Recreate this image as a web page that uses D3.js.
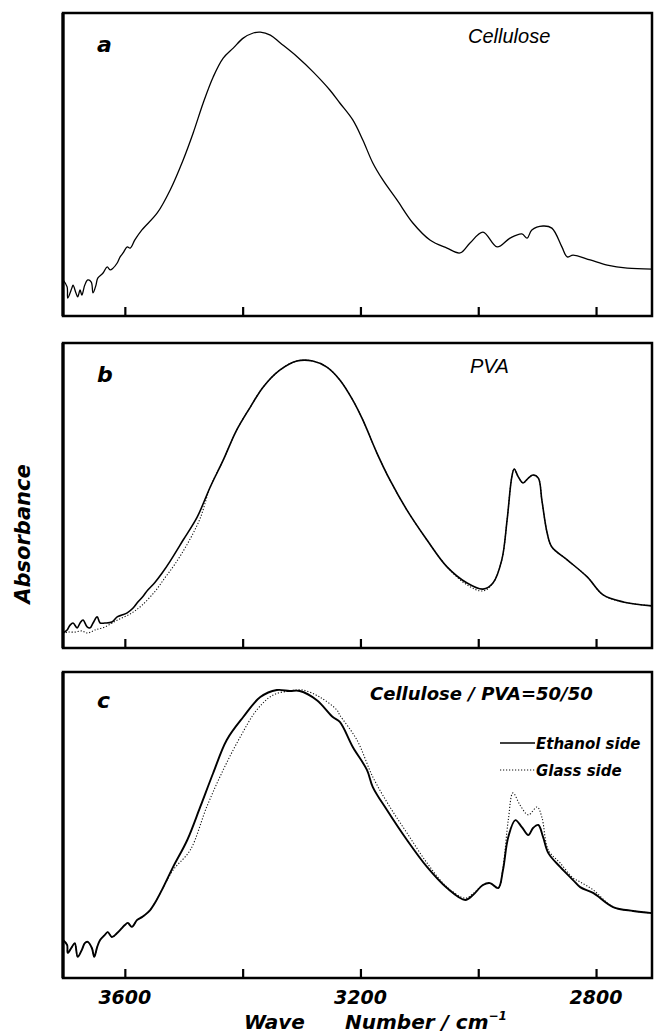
<!DOCTYPE html>
<html>
<head>
<meta charset="utf-8">
<script src="https://cdn.jsdelivr.net/npm/d3@7"></script>
<style>
  body { margin: 0; background: #fff; }
  svg { display: block; }
  .bold { font-family: "DejaVu Sans", sans-serif; font-weight: bold; font-style: oblique; }
</style>
</head>
<body>
<svg id="ir_chart"></svg>
<script>
// wave numbers (cm-1) and relative absorbance
var celluloseWn = [3705,3698,3697,3690,3688,3683,3680,3676,3673,3668,3663,3657,3654,3649,3646,3637,3630,3625,3620,3613,3608,3603,3596,3591,3583,3571,3545,3523,3501,3484,3467,3450,3433,3416,3399,3382,3370,3353,3336,3307,3280,3252,3235,3213,3196,3179,3162,3138,3111,3082,3053,3031,3014,2992,2968,2946,2926,2917,2909,2890,2875,2858,2849,2839,2810,2781,2747,2705];
var celluloseAbs = [0.119,0.096,0.059,0.092,0.102,0.076,0.063,0.086,0.069,0.102,0.119,0.112,0.076,0.102,0.125,0.142,0.162,0.152,0.158,0.175,0.195,0.208,0.228,0.224,0.251,0.284,0.340,0.416,0.515,0.604,0.703,0.789,0.851,0.884,0.917,0.934,0.937,0.927,0.901,0.855,0.805,0.746,0.703,0.647,0.581,0.505,0.449,0.383,0.307,0.251,0.224,0.208,0.241,0.277,0.228,0.257,0.271,0.257,0.284,0.297,0.290,0.228,0.195,0.201,0.185,0.168,0.158,0.155];

var pvaEthWn = [3705,3698,3693,3688,3681,3676,3671,3664,3659,3654,3647,3642,3634,3622,3613,3605,3596,3586,3579,3569,3561,3549,3537,3523,3501,3477,3455,3433,3410,3387,3365,3337,3308,3281,3257,3235,3213,3196,3172,3150,3121,3087,3053,3019,2992,2975,2960,2951,2943,2939,2932,2924,2915,2907,2898,2892,2883,2875,2849,2815,2788,2754,2705];
var pvaEthAbs = [0.049,0.059,0.075,0.082,0.066,0.082,0.092,0.069,0.066,0.082,0.102,0.082,0.082,0.085,0.102,0.108,0.115,0.131,0.148,0.170,0.190,0.215,0.245,0.285,0.354,0.430,0.528,0.616,0.715,0.790,0.856,0.911,0.941,0.941,0.921,0.879,0.813,0.748,0.639,0.551,0.452,0.354,0.266,0.213,0.193,0.213,0.289,0.420,0.561,0.587,0.561,0.541,0.557,0.567,0.557,0.485,0.377,0.331,0.289,0.233,0.174,0.151,0.138];
var pvaGlassWn = [3705,3697,3685,3673,3663,3651,3634,3612,3588,3571,3549,3532,3515,3493,3472,3455,3433,3410,3387,3365,3337,3308,3281,3257,3235,3213,3196,3172,3150,3121,3087,3053,3019,2992,2975,2960,2951,2943,2939,2932,2924,2915,2907,2898,2892,2883,2875,2849,2815,2788,2754,2705];
var pvaGlassAbs = [0.046,0.052,0.052,0.056,0.049,0.059,0.069,0.092,0.115,0.140,0.185,0.230,0.275,0.344,0.426,0.528,0.616,0.715,0.790,0.856,0.911,0.941,0.941,0.921,0.879,0.813,0.748,0.639,0.551,0.452,0.354,0.266,0.207,0.187,0.213,0.289,0.420,0.561,0.587,0.561,0.541,0.557,0.567,0.557,0.485,0.377,0.331,0.289,0.233,0.174,0.151,0.138];

var blendEthWn = [3705,3698,3697,3690,3685,3680,3673,3668,3663,3656,3652,3647,3642,3634,3629,3622,3613,3605,3600,3595,3588,3579,3571,3566,3557,3549,3537,3518,3494,3472,3450,3427,3399,3370,3342,3320,3303,3274,3247,3235,3213,3189,3179,3155,3121,3087,3053,3022,3009,2992,2980,2966,2958,2949,2937,2926,2915,2907,2898,2890,2881,2861,2839,2827,2805,2771,2737,2705];
var blendEthAbs = [0.124,0.108,0.082,0.101,0.114,0.069,0.092,0.114,0.118,0.098,0.069,0.101,0.124,0.141,0.150,0.134,0.147,0.163,0.173,0.180,0.167,0.190,0.199,0.206,0.222,0.245,0.288,0.363,0.451,0.559,0.670,0.778,0.853,0.918,0.941,0.938,0.938,0.908,0.853,0.837,0.755,0.680,0.624,0.549,0.451,0.363,0.294,0.255,0.271,0.304,0.310,0.294,0.353,0.461,0.516,0.493,0.467,0.490,0.500,0.461,0.408,0.363,0.320,0.297,0.278,0.232,0.219,0.212];
var blendGlassWn = [3705,3698,3697,3690,3685,3680,3673,3668,3663,3656,3652,3647,3642,3634,3629,3622,3613,3605,3600,3595,3588,3579,3571,3566,3557,3549,3537,3518,3489,3461,3433,3404,3376,3348,3320,3298,3269,3240,3235,3206,3179,3150,3121,3087,3053,3022,3009,2992,2980,2966,2958,2949,2941,2929,2915,2900,2892,2881,2861,2839,2827,2805,2771,2737,2705];
var blendGlassAbs = [0.124,0.108,0.082,0.101,0.114,0.069,0.092,0.114,0.118,0.098,0.069,0.101,0.124,0.141,0.150,0.134,0.147,0.163,0.173,0.180,0.167,0.190,0.199,0.206,0.222,0.245,0.288,0.353,0.418,0.559,0.680,0.788,0.876,0.925,0.938,0.941,0.918,0.876,0.859,0.778,0.657,0.559,0.474,0.376,0.297,0.261,0.275,0.304,0.310,0.294,0.363,0.516,0.605,0.565,0.533,0.559,0.526,0.418,0.376,0.327,0.314,0.288,0.232,0.219,0.212];

var majorTicks = [3600, 3400, 3200, 3000, 2800];
var tickLabels = [3600, 3200, 2800];

var W = 654, H = 1035;
var left = 63, right = 652;

var svg = d3.select("#ir_chart").attr("width", W).attr("height", H);

var x = d3.scaleLinear().domain([3705, 2705]).range([left, right]);

function zip(wn, ab) { return wn.map(function(w, i) { return {wn: w, ab: ab[i]}; }); }

var panels = [
  {top: 13, bottom: 316, letter: "a", solid: zip(celluloseWn, celluloseAbs), solidW: 1.3},
  {top: 343, bottom: 648, letter: "b", solid: zip(pvaEthWn, pvaEthAbs), dotted: zip(pvaGlassWn, pvaGlassAbs), solidW: 1.6},
  {top: 672, bottom: 978, letter: "c", solid: zip(blendEthWn, blendEthAbs), dotted: zip(blendGlassWn, blendGlassAbs), solidW: 1.9}
];

panels.forEach(function(p, i) {
  var y = d3.scaleLinear().domain([0, 1]).range([p.bottom, p.top]);
  var line = d3.line().x(d => x(d.wn)).y(d => y(d.ab)).curve(d3.curveCatmullRom.alpha(0.5));
  var g = svg.append("g");

  if (p.dotted) {
    g.append("path").datum(p.dotted)
      .attr("d", line).attr("fill", "none")
      .attr("stroke", "#111").attr("stroke-width", 1.1)
      .attr("stroke-dasharray", "1.2,1.8");
  }
  g.append("path").datum(p.solid)
    .attr("d", line).attr("fill", "none")
    .attr("stroke", "#000").attr("stroke-width", p.solidW)
    .attr("stroke-linejoin", "round");

  // ticks point up into the frame
  var ax = g.append("g")
    .attr("transform", `translate(0, ${p.bottom})`)
    .call(d3.axisBottom(x).tickValues(majorTicks).tickSize(-9).tickFormat(""));
  ax.select(".domain").remove();
  ax.selectAll(".tick line").attr("stroke", "#000").attr("stroke-width", 2.2);

  g.append("rect")
    .attr("x", left).attr("y", p.top)
    .attr("width", right - left).attr("height", p.bottom - p.top)
    .attr("fill", "none").attr("stroke", "#000").attr("stroke-width", 2.5);
  g.append("line")
    .attr("x1", left).attr("x2", left).attr("y1", p.top).attr("y2", p.bottom)
    .attr("stroke", "#000").attr("stroke-width", 3.2);

  g.append("text").attr("class", "bold")
    .attr("x", 97).attr("y", p.top + (i == 2 ? 36 : 39))
    .attr("font-size", 22).text(p.letter);
});

// panel titles
svg.append("text").attr("x", 468).attr("y", 43)
  .attr("font-family", "Liberation Sans, Arial, sans-serif").attr("font-style", "italic")
  .attr("font-size", 20).text("Cellulose");
svg.append("text").attr("x", 470).attr("y", 373)
  .attr("font-family", "Liberation Sans, Arial, sans-serif").attr("font-style", "italic")
  .attr("font-size", 20).text("PVA");
svg.append("text").attr("class", "bold").attr("x", 370).attr("y", 700)
  .attr("font-size", 18).text("Cellulose / PVA=50/50");

// legend
svg.append("line").attr("x1", 500).attr("x2", 535).attr("y1", 743).attr("y2", 743)
  .attr("stroke", "#000").attr("stroke-width", 1.3);
svg.append("line").attr("x1", 500).attr("x2", 535).attr("y1", 770).attr("y2", 770)
  .attr("stroke", "#111").attr("stroke-width", 1.1).attr("stroke-dasharray", "1.2,1.8");
svg.append("text").attr("class", "bold").attr("x", 536).attr("y", 749)
  .attr("font-size", 15).text("Ethanol side");
svg.append("text").attr("class", "bold").attr("x", 536).attr("y", 776)
  .attr("font-size", 15).text("Glass side");

// x tick labels
svg.selectAll(".xlab").data(tickLabels).enter().append("text")
  .attr("class", "bold")
  .attr("x", d => x(d)).attr("y", 1004)
  .attr("text-anchor", "middle").attr("font-size", 19)
  .text(d => d);

// axis titles
var xt = svg.append("text").attr("class", "bold").attr("y", 1029).attr("font-size", 20);
xt.append("tspan").attr("x", 244).text("Wave");
xt.append("tspan").attr("x", 345).text("Number / cm");
xt.append("tspan").attr("dy", -9).attr("font-size", 12).text("−1");

svg.append("text").attr("class", "bold")
  .attr("transform", "translate(30, 534) rotate(-90)")
  .attr("text-anchor", "middle").attr("font-size", 21)
  .text("Absorbance");
</script>
</body>
</html>
